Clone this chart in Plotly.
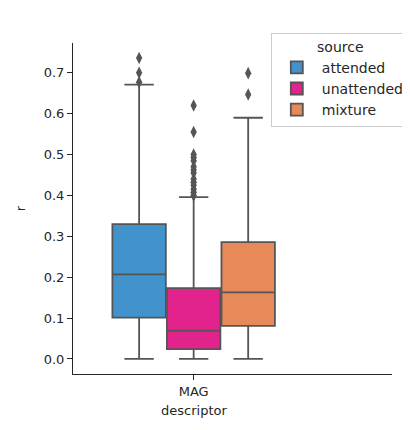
import plotly.graph_objects as go

categories = ["MAG"]
sources = ["attended", "unattended", "mixture"]
colors = ["#4292cc", "#e2238c", "#e8895a"]

lower_whisker = [0.0, 0.0, 0.0]
q1 = [0.101, 0.024, 0.081]
median = [0.207, 0.069, 0.163]
q3 = [0.330, 0.173, 0.286]
upper_whisker = [0.671, 0.396, 0.590]

outliers = [
    [0.677, 0.700, 0.736],
    [0.400, 0.408, 0.415, 0.425, 0.432, 0.440, 0.455, 0.462, 0.470,
     0.485, 0.493, 0.500, 0.555, 0.620],
    [0.647, 0.699],
]

edge = "#555555"
font = dict(family="DejaVu Sans", size=13, color="#262626")
legend_font = dict(family="DejaVu Sans", size=14, color="#262626")

fig = go.Figure()
for i, src in enumerate(sources):
    fig.add_trace(go.Box(
        name=src,
        x=categories,
        lowerfence=[lower_whisker[i]],
        q1=[q1[i]],
        median=[median[i]],
        q3=[q3[i]],
        upperfence=[upper_whisker[i]],
        fillcolor=colors[i],
        line=dict(color=edge, width=1.8),
        whiskerwidth=0.55,
        boxpoints=False,
        offsetgroup=src,
        legendgroup=src,
        hoverinfo="skip",
    ))
for i, src in enumerate(sources):
    fig.add_trace(go.Scatter(
        x=categories * len(outliers[i]),
        y=outliers[i],
        mode="markers",
        marker=dict(symbol="diamond-tall", size=9, color=edge),
        offsetgroup=src,
        legendgroup=src,
        showlegend=False,
        hoverinfo="skip",
    ))

fig.add_annotation(
    x=categories[0], xref="x", y=0, yref="paper",
    yshift=-27, yanchor="top", showarrow=False,
    text="descriptor", font=font,
)

fig.update_layout(
    width=410, height=430,
    margin=dict(l=65, r=26, t=35, b=64, autoexpand=False),
    paper_bgcolor="white", plot_bgcolor="white",
    font=font,
    boxmode="group", boxgap=0.2, boxgroupgap=0.02,
    scattermode="group", scattergap=0.2,
    legend=dict(
        title=dict(text="source", side="top center", font=legend_font),
        xref="container", yref="container",
        x=0.641, y=0.943, xanchor="left", yanchor="top",
        bgcolor="white", bordercolor="#cccccc", borderwidth=1,
        font=legend_font, tracegroupgap=0, itemwidth=40,
    ),
    xaxis=dict(
        type="category", range=[-0.59, 0.97],
        showline=True, linecolor="#262626", linewidth=1,
        ticks="outside", ticklen=5, tickcolor="#262626",
        showgrid=False, zeroline=False,
    ),
    yaxis=dict(
        range=[-0.0368, 0.7728],
        dtick=0.1, tickformat=".1f",
        showline=True, linecolor="#262626", linewidth=1,
        ticks="outside", ticklen=5, tickcolor="#262626",
        showgrid=False, zeroline=False,
        title=dict(text="r", standoff=15, font=font),
    ),
)

fig.write_html("out.html")
